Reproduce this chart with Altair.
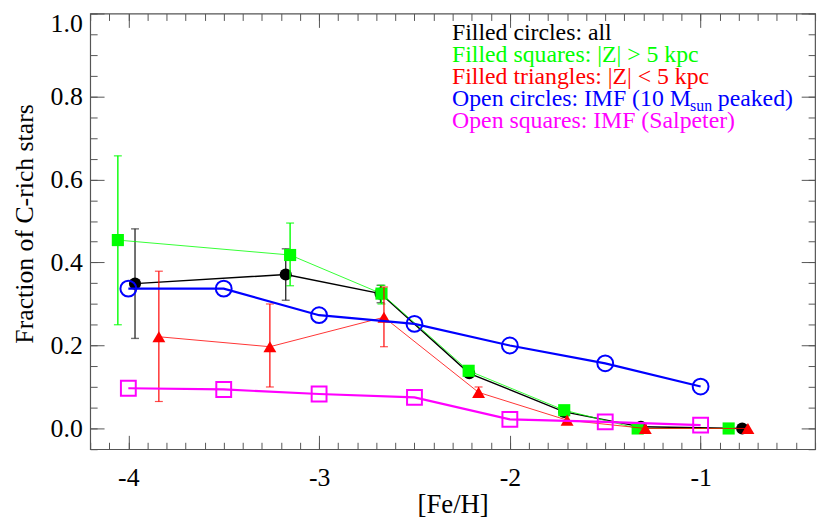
import altair as alt
import pandas as pd

# ---- data ----
feh_all = [-3.965, -3.175, -2.678, -2.213, -1.715, -1.313, -0.782]
frac_all = [0.349, 0.371, 0.325, 0.133, 0.040, 0.004, 0.0]
err_all_x = [-3.965, -3.175, -2.678]
err_all_lo = [0.217, 0.309, 0.303]
err_all_hi = [0.481, 0.433, 0.345]

feh_hz = [-4.055, -3.152, -2.673, -2.216, -1.715, -1.330, -0.853]
frac_hz = [0.454, 0.418, 0.325, 0.139, 0.044, 0.0, 0.0]
err_hz_x = [-4.055, -3.152, -2.673]
err_hz_lo = [0.250, 0.344, 0.300]
err_hz_hi = [0.657, 0.495, 0.345]

feh_lz = [-3.840, -3.258, -2.660, -2.164, -1.700, -1.290, -0.752]
frac_lz = [0.221, 0.197, 0.268, 0.087, 0.020, 0.0, 0.0]
err_lz_x = [-3.840, -3.258, -2.660, -2.164]
err_lz_lo = [0.065, 0.100, 0.197, 0.075]
err_lz_hi = [0.379, 0.300, 0.341, 0.100]

feh_imf = [-4.0, -3.5, -3.0, -2.5, -2.0, -1.5, -1.0]
frac_peak = [0.337, 0.337, 0.273, 0.252, 0.200, 0.157, 0.101]
frac_salp = [0.097, 0.094, 0.083, 0.075, 0.022, 0.016, 0.008]

x_major = [-4, -3, -2, -1]
y_major = [0.0, 0.2, 0.4, 0.6, 0.8, 1.0]

legend_text = ["Filled circles: all", "Filled squares: |Z| > 5 kpc",
               "Filled triangles: |Z| < 5 kpc", "Open circles: IMF (10 M",
               "Open squares: IMF (Salpeter)"]
legend_color = ["#000000", "#00ff00", "#ff0000", "#0000ff", "#ff00ff"]

FONT = "Liberation Serif, Times New Roman, serif"
xs = alt.Scale(domain=[-4.2, -0.4], nice=False, zero=False)
ys = alt.Scale(domain=[-0.05, 1.0], nice=False, zero=False)
x_minor = [round(-4.2 + 0.1 * i, 2) for i in range(39)]
y_minor = [round(-0.05 + 0.05 * i, 2) for i in range(22)]


def X(f):
    return alt.X(f, type="quantitative", scale=xs, axis=None)


def Y(f):
    return alt.Y(f, type="quantitative", scale=ys, axis=None)


def series(xv, yv, color, lw, shape, size, filled, ex=None, elo=None, ehi=None, ecol=None, ew=1.3):
    df = pd.DataFrame({"x": xv, "y": yv})
    out = []
    if ex is not None:
        de = pd.DataFrame({"x": ex, "lo": elo, "hi": ehi})
        out.append(alt.Chart(de).mark_rule(color=ecol, strokeWidth=ew).encode(
            x=X("x"), y=Y("lo"), y2="hi"))
        dc = pd.DataFrame({"x": ex * 2, "y": list(elo) + list(ehi)})
        out.append(alt.Chart(dc).mark_tick(color=ecol, orient="horizontal", size=8,
                                           thickness=ew).encode(x=X("x"), y=Y("y")))
    out.append(alt.Chart(df).mark_line(color=color, strokeWidth=lw).encode(x=X("x"), y=Y("y")))
    if filled:
        out.append(alt.Chart(df).mark_point(shape=shape, size=size, filled=True, color=color,
                                            opacity=1).encode(x=X("x"), y=Y("y")))
    else:
        out.append(alt.Chart(df).mark_point(shape=shape, size=size, filled=False, color=color,
                                            strokeWidth=2, opacity=1).encode(x=X("x"), y=Y("y")))
    return out


layers = []
layers += series(feh_all, frac_all, "#000000", 1.4, "circle", 150, True,
                 err_all_x, err_all_lo, err_all_hi, "#333333", 1.4)
layers += series(feh_hz, frac_hz, "#00ff00", 0.8, "square", 150, True,
                 err_hz_x, err_hz_lo, err_hz_hi, "#00ff00", 1.4)
layers += series(feh_lz, frac_lz, "#ff0000", 0.8, "triangle-up", 170, True,
                 err_lz_x, err_lz_lo, err_lz_hi, "#ff0000", 1.2)
layers += series(feh_imf, frac_peak, "#0000ff", 2.2, "circle", 256, False)
layers += series(feh_imf, frac_salp, "#ff00ff", 2.2, "square", 225, False)

# legend text block
x0 = -2.303
y0 = 0.937
dy = 0.053
leg_rows = []
for i, (t, c) in enumerate(zip(legend_text, legend_color)):
    leg_rows.append({"x": x0, "y": y0 - i * dy, "t": t, "c": c, "fs": 24})
leg_rows.append({"x": -1.055, "y": y0 - 3 * dy - 0.013, "t": "sun", "c": legend_color[3], "fs": 16})
leg_rows.append({"x": -0.910, "y": y0 - 3 * dy, "t": "peaked)", "c": legend_color[3], "fs": 24})
layers.append(alt.Chart(pd.DataFrame(leg_rows)).mark_text(
    align="left", baseline="alphabetic", font=FONT).encode(
    x=X("x"), y=Y("y"), text="t:N", color=alt.Color("c:N", scale=None),
    size=alt.Size("fs:Q", scale=None)))

# axes (inward ticks via negative offsets)
axdf = pd.DataFrame({"x": feh_imf, "y": frac_peak})
common = dict(grid=False, domain=False)


def axis_layer(ax, ay):
    return alt.Chart(axdf).mark_point(opacity=0).encode(
        x=alt.X("x:Q", scale=xs, axis=ax), y=alt.Y("y:Q", scale=ys, axis=ay))


lab_x = alt.Axis(orient="bottom", values=x_major, tickSize=0, labelFont=FONT, labelFontSize=26,
                 labelColor="black", labelPadding=16, labelExpr="datum.value + ''",
                 title="[Fe/H]", titleFont=FONT, titleFontSize=27, titleFontWeight="normal",
                 titleColor="black", titleY=56, titleBaseline="middle", **common)
lab_y = alt.Axis(orient="left", values=y_major, tickSize=0, labelFont=FONT, labelFontSize=26,
                 labelColor="black", labelPadding=8, format=".1f", labelFlush=True,
                 labelFlushOffset=3,
                 title="Fraction of C-rich stars", titleFont=FONT, titleFontSize=26,
                 titleFontWeight="normal", titleColor="black", titleX=-66, titleY=212,
                 titleBaseline="middle", **common)


def tick_axis(orient, vals, length):
    return alt.Axis(orient=orient, values=vals, tickSize=length, offset=-length, labels=False,
                    title=None, tickColor="#555555", tickWidth=1, **common)


layers.append(axis_layer(lab_x, lab_y))
layers.append(axis_layer(tick_axis("bottom", x_major, 14), tick_axis("left", y_major, 14)))
layers.append(axis_layer(tick_axis("bottom", x_minor, 7), tick_axis("left", y_minor, 7)))
layers.append(axis_layer(tick_axis("top", x_major, 14), tick_axis("right", y_major, 14)))
layers.append(axis_layer(tick_axis("top", x_minor, 7), tick_axis("right", y_minor, 7)))

chart = alt.layer(*layers).resolve_axis(x="independent", y="independent").properties(
    width=732, height=440,
    padding={"left": 83, "top": 3, "right": 7, "bottom": 77},
    autosize=alt.AutoSizeParams(type="none"),
    background="white",
).configure_view(stroke="#555555", strokeWidth=1.2)

chart.save("out.html", embed_options={"renderer": "svg", "actions": False})
